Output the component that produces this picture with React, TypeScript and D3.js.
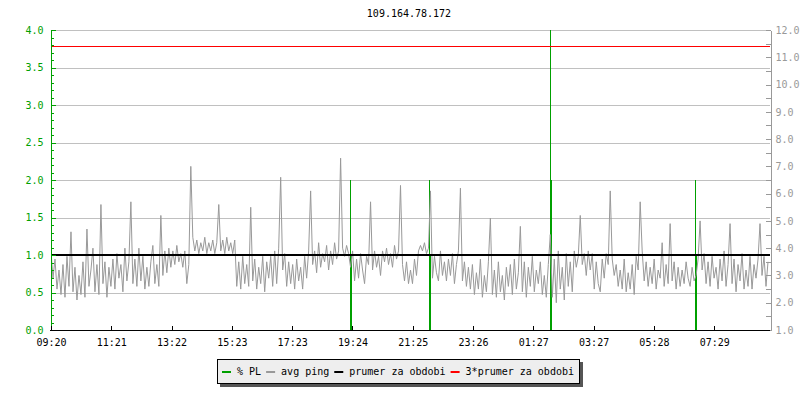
import { useEffect, useRef } from "react";
import * as d3 from "d3";

const title = "109.164.78.172";

// bottom axis labels, one every ~2 hours
const timeLabels = [
  "09:20", "11:21", "13:22", "15:23", "17:23", "19:24",
  "21:25", "23:26", "01:27", "03:27", "05:28", "07:29",
];
const tickStepMinutes = 120.75;
const spanMinutes = 1440;

// avg ping [ms], one sample every 4 minutes
const pingStepMinutes = 4;
const avgPing = [
  3.9, 2.9, 3.6, 2.5, 3.2, 2.3, 3.4, 2.2, 3.7, 2.6,
  4.6, 2.4, 3.3, 2.1, 3.0, 2.3, 3.5, 2.2, 4.7, 2.6,
  3.2, 4.0, 2.4, 3.4, 2.3, 5.6, 2.7, 3.5, 2.2, 3.3,
  2.6, 3.6, 2.5, 3.8, 2.9, 3.4, 2.4, 4.0, 2.8, 3.5,
  5.7, 2.7, 3.6, 2.6, 4.0, 2.8, 3.7, 2.5, 3.3, 2.6,
  3.5, 4.1, 2.7, 3.4, 2.6, 5.2, 3.0, 3.9, 3.1, 4.0,
  3.3, 3.9, 3.4, 4.1, 3.5, 3.8, 3.3, 3.9, 2.7, 3.4,
  7.0, 4.4, 3.9, 4.3, 3.8, 4.2, 3.9, 4.4, 3.8, 4.2,
  3.9, 4.3, 3.8, 4.2, 5.6, 3.9, 4.3, 3.8, 4.4, 3.9,
  4.2, 3.8, 4.3, 2.6, 3.5, 2.5, 3.7, 2.7, 3.4, 2.6,
  5.5, 2.8, 3.6, 2.5, 3.3, 2.7, 3.7, 2.4, 3.5, 2.9,
  3.7, 2.6, 3.9, 2.7, 4.0, 6.6, 3.2, 3.8, 2.6, 3.5,
  2.7, 3.4, 2.5, 3.6, 2.8, 3.3, 2.5, 3.7, 2.9, 3.9,
  6.1, 3.4, 3.9, 3.1, 4.2, 3.3, 3.8, 3.5, 4.1, 3.2,
  3.9, 3.4, 4.2, 3.6, 3.9, 7.3, 4.0, 3.7, 4.1, 3.8,
  3.3, 3.9, 2.8, 3.6, 2.9, 3.8, 3.2, 2.7, 3.7, 3.4,
  5.7, 3.2, 3.9, 3.3, 3.7, 3.0, 3.9, 3.5, 4.0, 3.4,
  3.8, 3.3, 4.1, 3.6, 3.9, 6.3, 3.4, 2.8, 3.5, 2.7,
  3.2, 2.7, 3.6, 3.0, 3.9, 4.1, 3.9, 4.2, 3.8, 4.0,
  6.1, 2.9, 3.7, 3.1, 2.8, 3.9, 3.0, 3.5, 2.8, 3.6,
  3.0, 3.8, 2.7, 3.4, 3.9, 6.2, 2.8, 3.5, 2.6, 3.3,
  2.5, 3.4, 2.3, 3.1, 2.5, 3.6, 2.2, 3.0, 2.4, 3.5,
  5.1, 2.3, 3.2, 2.2, 3.5, 2.4, 3.0, 2.1, 3.3, 2.6,
  3.4, 2.3, 3.6, 2.5, 3.1, 4.8, 2.4, 3.5, 2.2, 3.3,
  2.6, 3.7, 2.4, 3.2, 2.7, 3.5, 2.3, 3.0, 2.2, 3.4,
  4.5, 2.2, 3.6, 2.0, 3.9, 2.5, 3.3, 2.1, 3.8, 2.6,
  3.5, 2.4, 3.9, 3.3, 3.7, 5.2, 3.4, 3.8, 3.0, 3.9,
  3.2, 3.8, 2.5, 3.5, 2.7, 2.4, 3.6, 2.9, 3.8, 3.4,
  6.1, 3.6, 3.0, 3.4, 2.6, 3.2, 2.5, 3.6, 2.4, 3.1,
  2.5, 3.4, 2.3, 3.7, 3.2, 5.7, 3.9, 2.8, 3.5, 2.6,
  3.3, 2.7, 3.6, 2.5, 3.2, 2.9, 4.2, 2.6, 3.4, 2.7,
  4.9, 2.8, 3.5, 2.5, 3.3, 2.6, 3.2, 2.7, 3.5, 2.9,
  2.6, 3.3, 2.8, 3.0, 3.6, 5.0, 3.2, 3.8, 2.7, 3.5,
  2.6, 3.7, 2.9, 3.3, 2.5, 3.6, 2.8, 3.9, 2.6, 3.4,
  4.9, 2.7, 3.6, 2.4, 3.4, 2.8, 3.8, 2.5, 3.2, 2.6,
  3.7, 2.5, 3.4, 2.9, 3.6, 4.9, 3.0, 3.7, 2.6, 3.5,
];

// % packet loss, only the non-zero samples
const plMinutes = [598, 600, 758, 760, 1000, 1002, 1290, 1292];
const plValues = [2.0, 1.0, 2.0, 1.0, 4.0, 2.0, 2.0, 1.0];

// prumer za obdobi, 3*prumer za obdobi [ms]
const meanPing = 3.75;
const tripleMeanPing = 11.41;

const legendLabels = ["% PL", "avg ping", "prumer za obdobi", "3*prumer za obdobi"];
const legendColors = ["#00a000", "#999999", "#000000", "#ff0000"];

const FONT = "'DejaVu Sans Mono', monospace";

export default function App() {
  const svgRef = useRef<SVGSVGElement>(null);

  useEffect(() => {
    document.body.style.margin = "0";
    const svg = d3.select(svgRef.current);
    svg.selectAll("*").remove();

    const left = 51;
    const right = 770;
    const top = 30;
    const bottom = 330;

    const x = d3.scaleLinear().domain([0, spanMinutes]).range([left, right]);
    const yL = d3.scaleLinear().domain([0, 4]).range([bottom, top]);
    const yR = d3.scaleLinear().domain([1, 12]).range([bottom, top]);
    const crisp = (v: number) => Math.round(v) + 0.5;

    svg.append("rect").attr("width", 800).attr("height", 400).attr("fill", "white");

    svg
      .append("defs")
      .append("clipPath")
      .attr("id", "plot")
      .append("rect")
      .attr("x", left)
      .attr("y", top)
      .attr("width", right - left)
      .attr("height", bottom - top);

    // title
    svg
      .append("text")
      .attr("x", 409)
      .attr("y", 17)
      .attr("text-anchor", "middle")
      .attr("font-family", FONT)
      .attr("font-size", 10)
      .attr("fill", "#000")
      .text(title);

    // grid
    svg
      .append("g")
      .selectAll("line")
      .data(d3.range(0.5, 4.01, 0.5))
      .enter()
      .append("line")
      .attr("x1", left)
      .attr("x2", right)
      .attr("y1", (d) => crisp(yL(d)))
      .attr("y2", (d) => crisp(yL(d)))
      .attr("stroke", "#c0c0c0")
      .attr("shape-rendering", "crispEdges");

    const plot = svg.append("g").attr("clip-path", "url(#plot)");

    // packet loss
    plot
      .selectAll("line.pl")
      .data(plMinutes)
      .enter()
      .append("line")
      .attr("class", "pl")
      .attr("x1", (d) => crisp(x(d)))
      .attr("x2", (d) => crisp(x(d)))
      .attr("y1", yL(0))
      .attr("y2", (_, i) => yL(plValues[i]))
      .attr("stroke", legendColors[0])
      .attr("shape-rendering", "crispEdges");

    // avg ping
    const line = d3
      .line<number>()
      .x((_, i) => x(i * pingStepMinutes))
      .y((d) => yR(d));
    plot
      .append("path")
      .datum(avgPing)
      .attr("d", line)
      .attr("fill", "none")
      .attr("stroke", legendColors[1])
      .attr("stroke-width", 1);

    // mean lines
    plot
      .append("line")
      .attr("x1", left)
      .attr("x2", right)
      .attr("y1", Math.round(yR(meanPing)))
      .attr("y2", Math.round(yR(meanPing)))
      .attr("stroke", legendColors[2])
      .attr("stroke-width", 2)
      .attr("shape-rendering", "crispEdges");
    plot
      .append("line")
      .attr("x1", left)
      .attr("x2", right)
      .attr("y1", crisp(yR(tripleMeanPing)))
      .attr("y2", crisp(yR(tripleMeanPing)))
      .attr("stroke", legendColors[3])
      .attr("stroke-width", 1)
      .attr("shape-rendering", "crispEdges");

    const styleAxis = (g: d3.Selection<SVGGElement, unknown, null, undefined>, color: string, textColor: string) => {
      g.attr("font-family", FONT).attr("font-size", 10);
      g.selectAll(".domain").attr("stroke", color).attr("shape-rendering", "crispEdges");
      g.selectAll(".tick line").attr("stroke", color).attr("shape-rendering", "crispEdges");
      g.selectAll(".tick text").attr("fill", textColor);
    };

    // left axis (% PL)
    const leftMinor = svg
      .append("g")
      .attr("transform", `translate(${left - 0.5},0)`)
      .call(
        d3.axisLeft(yL).tickValues(d3.range(0, 4.001, 0.1)).tickSize(-3).tickSizeOuter(0).tickFormat(() => ""),
      );
    styleAxis(leftMinor, "#00a000", "#00a000");
    const leftAxis = svg
      .append("g")
      .attr("transform", `translate(${left - 0.5},0)`)
      .call(
        d3.axisLeft(yL).tickValues(d3.range(0, 4.001, 0.5)).tickSize(-5).tickSizeOuter(0).tickPadding(7).tickFormat(d3.format(".1f")),
      );
    styleAxis(leftAxis, "#00a000", "#00a000");

    // right axis (ping)
    const rightAxis = svg
      .append("g")
      .attr("transform", `translate(${right + 0.5},0)`)
      .call(
        d3
          .axisRight(yR)
          .tickValues(d3.range(1, 12.001, 0.5))
          .tickSize(-5)
          .tickSizeOuter(0)
          .tickPadding(5)
          .tickFormat((d) => (Number(d) % 1 === 0 ? d3.format(".1f")(Number(d)) : "")),
      );
    styleAxis(rightAxis, "#999999", "#999999");

    // bottom axis (time)
    const bottomAxis = svg
      .append("g")
      .attr("transform", `translate(0,${bottom + 0.5})`)
      .call(
        d3
          .axisBottom(x)
          .tickValues(timeLabels.map((_, i) => i * tickStepMinutes))
          .tickSize(-5)
          .tickSizeOuter(0)
          .tickPadding(8)
          .tickFormat((_, i) => timeLabels[i]),
      );
    styleAxis(bottomAxis, "#000", "#000");
    bottomAxis.selectAll(".domain").attr("d", `M${left - 1},0H${right}`);

    // legend
    const legend = svg.append("g");
    legend
      .append("rect")
      .attr("x", 220)
      .attr("y", 362)
      .attr("width", 363)
      .attr("height", 25)
      .attr("fill", "#555");
    legend
      .append("rect")
      .attr("x", 217.5)
      .attr("y", 359.5)
      .attr("width", 362)
      .attr("height", 24)
      .attr("fill", "#eeeeee")
      .attr("stroke", "#000")
      .attr("shape-rendering", "crispEdges");
    let sx = 222;
    legendLabels.forEach((label, i) => {
      legend
        .append("rect")
        .attr("x", sx)
        .attr("y", 371)
        .attr("width", 9)
        .attr("height", 2)
        .attr("fill", legendColors[i]);
      const t = legend
        .append("text")
        .attr("x", sx + 15)
        .attr("y", 375)
        .attr("font-family", FONT)
        .attr("font-size", 10)
        .attr("fill", "#000")
        .text(label);
      const w = (t.node() as SVGTextElement).getComputedTextLength();
      sx = sx + 15 + w + 5;
    });
  }, []);

  return <svg ref={svgRef} width={800} height={400} style={{ display: "block" }}></svg>;
}
